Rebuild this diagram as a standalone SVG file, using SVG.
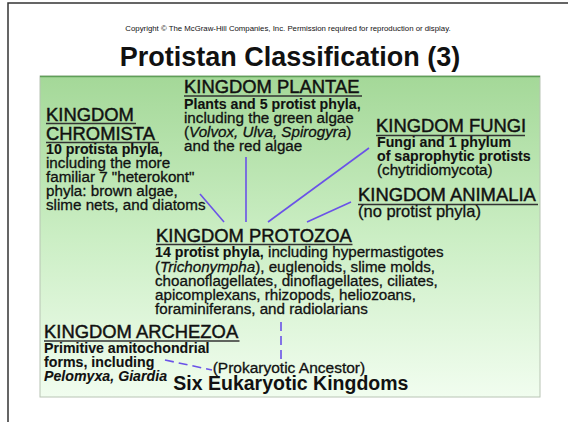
<svg xmlns="http://www.w3.org/2000/svg" width="568" height="422" viewBox="0 0 568 422">
<defs>
<linearGradient id="bg" x1="0" y1="0" x2="0" y2="1">
<stop offset="0" stop-color="#a4d898"/>
<stop offset="0.5" stop-color="#cbeec4"/>
<stop offset="1" stop-color="#f1fdef"/>
</linearGradient>
<style>
text{font-family:"Liberation Sans",Arial,Helvetica,sans-serif;fill:#111}
.h{font-size:18.4px;stroke:#111;stroke-width:0.45}
.b{font-size:14.2px;font-weight:bold;stroke:#111;stroke-width:0.1}
.r{font-size:15.2px;stroke:#111;stroke-width:0.3}
.i{font-style:italic}
.ul{stroke:#333;stroke-width:1.6}
.c{stroke:#6a52e8;stroke-width:1.6;fill:none}
.d{stroke:#6a52e8;stroke-width:1.6;fill:none;stroke-dasharray:9 5}
</style>
</defs>
<rect width="568" height="422" fill="#fff"/>
<path d="M8,422 V3 H568" fill="none" stroke="#333" stroke-width="1.5"/>
<text x="288" y="31" text-anchor="middle" style="font-size:7.8px">Copyright © The McGraw-Hill Companies, Inc. Permission required for reproduction or display.</text>
<text x="290" y="66" text-anchor="middle" style="font-size:27px;font-weight:bold">Protistan Classification (3)</text>
<rect x="40" y="76" width="500" height="321" fill="url(#bg)" stroke="#b8c4b4" stroke-width="1"/>
<line x1="40" y1="76.5" x2="540" y2="76.5" stroke="#5f9f58" stroke-width="1.6"/>

<g id="connectors">
<line class="c" x1="200" y1="194" x2="224" y2="222"/>
<line class="c" x1="246" y1="157" x2="246" y2="222"/>
<line class="c" x1="268" y1="222" x2="369" y2="148"/>
<line class="c" x1="307" y1="222" x2="351" y2="202"/>
<line class="d" x1="281" y1="322" x2="281" y2="362"/>
<line class="d" x1="165" y1="360" x2="212" y2="370"/>
</g>

<g id="plantae">
<text class="h" x="184" y="93">KINGDOM PLANTAE</text>
<line class="ul" x1="184" y1="96" x2="362" y2="96"/>
<text class="b" x="184" y="109">Plants and 5 protist phyla,</text>
<text class="r" x="184" y="123">including the green algae</text>
<text class="r" x="184" y="137">(<tspan class="i">Volvox, Ulva, Spirogyra</tspan>)</text>
<text class="r" x="184" y="151">and the red algae</text>
</g>

<g id="chromista">
<text class="h" x="46" y="121">KINGDOM</text>
<line class="ul" x1="46" y1="123.5" x2="136" y2="123.5"/>
<text class="h" x="46" y="139.5">CHROMISTA</text>
<line class="ul" x1="46" y1="142.5" x2="159" y2="142.5"/>
<text class="b" x="46" y="153.5">10 protista phyla,</text>
<text class="r" x="46" y="167.7">including the more</text>
<text class="r" x="46" y="181.7">familiar 7 "heterokont"</text>
<text class="r" x="46" y="195.7">phyla: brown algae,</text>
<text class="r" x="46" y="210">slime nets, and diatoms</text>
</g>

<g id="fungi">
<text class="h" x="376" y="132.3">KINGDOM FUNGI</text>
<line class="ul" x1="376" y1="135.5" x2="525" y2="135.5"/>
<text class="b" x="377" y="147">Fungi and 1 phylum</text>
<text class="b" x="377" y="161">of saprophytic protists</text>
<text class="r" x="377" y="174.5">(chytridiomycota)</text>
</g>

<g id="animalia">
<text class="h" x="358" y="201">KINGDOM ANIMALIA</text>
<line class="ul" x1="358" y1="204.5" x2="538" y2="204.5"/>
<text x="358" y="217" style="font-size:16.5px;stroke:#111;stroke-width:0.3">(no protist phyla)</text>
</g>

<g id="protozoa">
<text class="h" x="156" y="241.7">KINGDOM PROTOZOA</text>
<line class="ul" x1="156" y1="244.5" x2="352.5" y2="244.5"/>
<text x="155" y="257.3"><tspan class="b">14 protist phyla,</tspan><tspan class="r"> including hypermastigotes</tspan></text>
<text class="r" x="155" y="271.7">(<tspan class="i">Trichonympha</tspan>), euglenoids, slime molds,</text>
<text class="r" x="155" y="285.7">choanoflagellates, dinoflagellates, ciliates,</text>
<text class="r" x="155" y="299.7">apicomplexans, rhizopods, heliozoans,</text>
<text class="r" x="155" y="313.7">foraminiferans, and radiolarians</text>
</g>

<g id="archezoa">
<text class="h" x="44" y="338.3">KINGDOM ARCHEZOA</text>
<line class="ul" x1="44" y1="341" x2="239.5" y2="341"/>
<text class="b" x="44" y="352.5">Primitive amitochondrial</text>
<text class="b" x="44" y="366.7">forms, including</text>
<text class="b i" x="44" y="380.7">Pelomyxa, Giardia</text>
</g>

<g id="ancestor">
<text x="212.7" y="373.3" style="font-size:15.5px;stroke:#111;stroke-width:0.3">(Prokaryotic Ancestor)</text>
</g>

<g id="caption">
<text x="173.3" y="390" style="font-size:19.5px;font-weight:bold">Six Eukaryotic Kingdoms</text>
</g>
</svg>
